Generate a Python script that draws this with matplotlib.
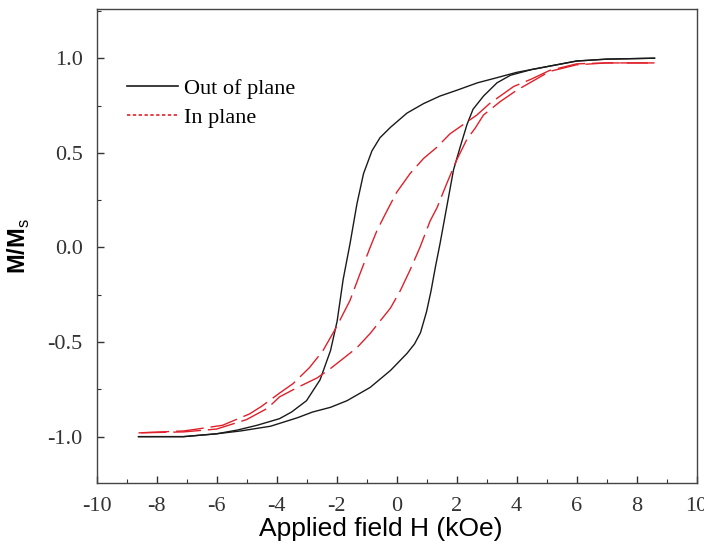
import numpy as np
import matplotlib
matplotlib.use('Agg')
import matplotlib.pyplot as plt
from matplotlib.lines import Line2D
from matplotlib.ticker import MultipleLocator

# 数据：磁滞回线
# Out of plane，磁场从 +8.6 降到 -8.6
out_down_H = [8.6, 7.0, 6.0, 5.0, 4.0, 3.3, 2.7, 2.0, 1.45, 0.9, 0.35, -0.2, -0.55, -0.82,
              -1.1, -1.32, -1.55, -1.78, -1.98, -2.2, -2.55, -3.0, -3.5, -3.9, -4.65, -5.3,
              -6.0, -7.1, -8.6]
out_down_M = [1.0, 0.995, 0.985, 0.955, 0.925, 0.895, 0.87, 0.83, 0.80, 0.76, 0.71, 0.635, 0.58, 0.51,
              0.39, 0.23, 0.02, -0.17, -0.39, -0.545, -0.70, -0.81, -0.87, -0.905, -0.94, -0.965,
              -0.985, -1.0, -1.0]
# Out of plane，磁场从 -8.6 升到 +8.6
out_up_H = [-8.6, -7.1, -6.0, -5.2, -4.2, -3.3, -2.8, -2.2, -1.65, -0.88, -0.2, 0.35, 0.6, 0.8,
            1.0, 1.15, 1.3, 1.45, 1.6, 1.75, 1.9, 2.12, 2.35, 2.55, 2.9, 3.35, 3.8, 4.5, 5.0, 6.0,
            7.0, 8.6]
out_up_M = [-1.0, -1.0, -0.985, -0.97, -0.945, -0.9, -0.87, -0.845, -0.81, -0.74, -0.65, -0.56, -0.51, -0.45,
            -0.34, -0.23, -0.1, 0.02, 0.15, 0.28, 0.41, 0.53, 0.65, 0.73, 0.80, 0.87, 0.91, 0.94, 0.955, 0.985,
            0.995, 1.0]

# In plane，下降支
in_down_H = [8.6, 7.0, 6.0, 5.1, 4.5, 3.9, 3.1, 2.68, 1.78, 1.35, 0.9, 0.45, 0.0, -0.33, -0.65, -0.88,
             -1.22, -1.55, -2.0, -2.45, -2.9, -3.45, -3.9, -4.5, -4.9, -5.8, -6.65, -7.1, -8.6]
in_down_M = [0.975, 0.975, 0.97, 0.935, 0.89, 0.85, 0.76, 0.70, 0.60, 0.53, 0.47, 0.39, 0.29, 0.19, 0.09, 0.0,
             -0.14, -0.28, -0.42, -0.545, -0.635, -0.72, -0.77, -0.84, -0.88, -0.94, -0.96, -0.97, -0.98]
# In plane，上升支
in_up_H = [-8.6, -7.1, -6.0, -5.0, -4.3, -3.9, -3.3, -2.65, -2.2, -1.32, -0.88, -0.2, 0.12, 0.45, 0.78,
           1.12, 1.35, 1.68, 2.0, 2.34, 2.62, 2.9, 3.45, 4.0, 4.5, 5.1, 6.0, 7.0, 8.6]
in_up_M = [-0.98, -0.975, -0.96, -0.91, -0.85, -0.79, -0.74, -0.69, -0.64, -0.53, -0.455, -0.32, -0.23, -0.12, 0.0,
           0.14, 0.21, 0.34, 0.46, 0.57, 0.63, 0.70, 0.77, 0.83, 0.875, 0.93, 0.965, 0.975, 0.975]

x_ticks = [-10, -8, -6, -4, -2, 0, 2, 4, 6, 8, 10]
y_ticks = [-1.0, -0.5, 0.0, 0.5, 1.0]

plt.rcParams['mathtext.fontset'] = 'custom'
plt.rcParams['mathtext.rm'] = 'Liberation Sans'
plt.rcParams['mathtext.bf'] = 'Liberation Sans:bold'

black = '#1a1a1a'
red = '#e0202a'

fig = plt.figure(figsize=(7.04, 5.52), dpi=100)
ax = fig.add_axes([0.1371, 0.125, 0.8523, 0.8587])

ax.plot(out_down_H, out_down_M, color=black, lw=1.0)
ax.plot(out_up_H, out_up_M, color=black, lw=1.0)
ax.plot(in_down_H, in_down_M, color=red, lw=1.0, dashes=(20, 5))
ax.plot(in_up_H, in_up_M, color=red, lw=1.0, dashes=(20, 5))

ax.set_xlim(-10, 10)
ax.set_ylim(-1.245, 1.26)
ax.set_xticks(x_ticks)
ax.set_yticks(y_ticks)
ax.set_xticklabels([str(t) for t in x_ticks])
ax.set_yticklabels([f"{t:.1f}" for t in y_ticks])
ax.xaxis.set_minor_locator(MultipleLocator(1))
ax.yaxis.set_minor_locator(MultipleLocator(0.25))
ax.tick_params(which='both', direction='in', top=False, right=False, color='#333333')
ax.tick_params(which='major', length=5, width=1)
ax.tick_params(which='minor', length=3, width=0.8)
ax.tick_params(axis='x', pad=10)
ax.tick_params(axis='y', pad=10)
for lab in ax.get_xticklabels() + ax.get_yticklabels():
    lab.set_fontfamily('Liberation Serif')
    lab.set_fontsize(16)
    lab.set_color('#333333')
for sp in ax.spines.values():
    sp.set_linewidth(1.0)
    sp.set_color('#444444')

ax.set_xlabel('Applied field H (kOe)', fontsize=19, family='Liberation Sans')
ax.xaxis.set_label_coords(0.474, -0.072)
ax.set_ylabel(r'$\mathbf{M/M}_\mathrm{s}$', fontsize=17)
ax.yaxis.set_label_coords(-0.108, 0.5)

handles = [Line2D([0], [0], color=black, lw=1.2),
           Line2D([0], [0], color=red, lw=1.2, linestyle=(0, (2, 1.5)))]
ax.legend(handles, ['Out of plane', 'In plane'], loc='upper left',
          bbox_to_anchor=(0.051, 0.853), frameon=False, borderpad=0, borderaxespad=0,
          handlelength=2.3, handletextpad=0.25, labelspacing=0.35,
          prop={'family': 'Liberation Serif', 'size': 16})

plt.savefig('out.png', dpi=100)
